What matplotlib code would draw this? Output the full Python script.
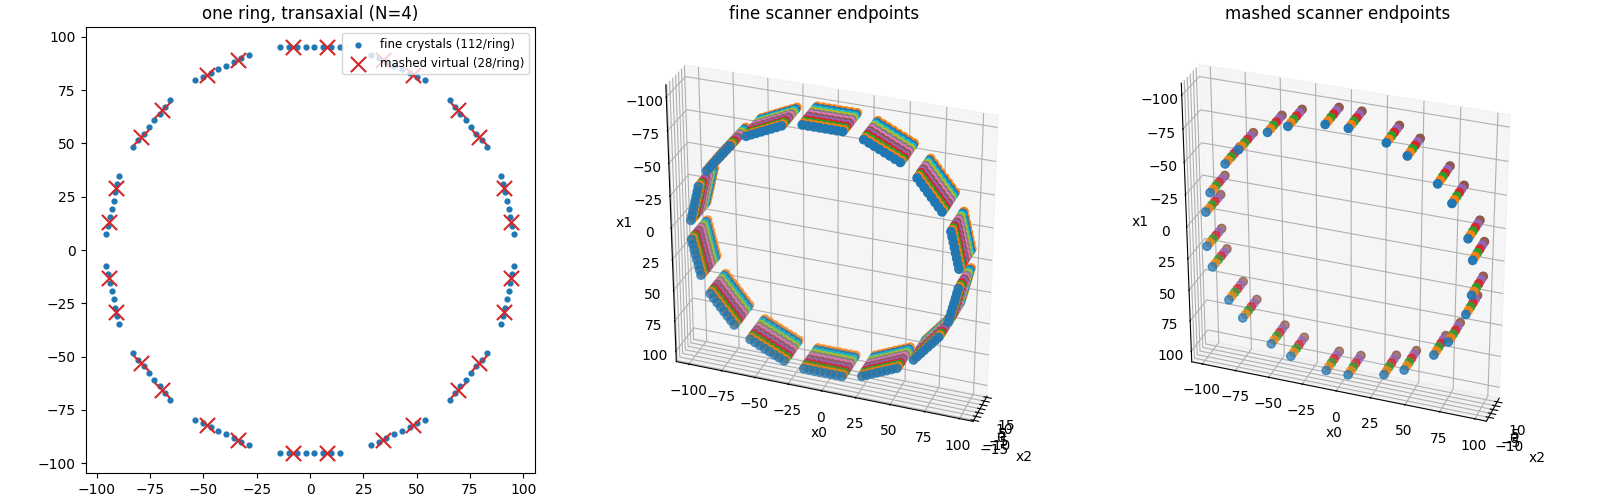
"""Scanner geometry overview: one transaxial ring plus fine and mashed endpoints in 3D."""

import matplotlib

matplotlib.use("Agg")
import matplotlib.pyplot as plt
import numpy as np
from matplotlib.colors import to_rgb

# fine crystal positions on one ring, 8 crystals per block, 14 blocks
CRYSTAL_X = [
    -14.00, -10.00, -6.00, -2.00, 2.00, 6.00, 10.00, 14.00,
    28.61, 32.21, 35.81, 39.42, 43.02, 46.63, 50.23, 53.83,
    65.54, 68.04, 70.53, 73.02, 75.52, 78.01, 80.50, 83.00,
    89.50, 90.39, 91.28, 92.17, 93.06, 93.95, 94.84, 95.73,
    95.73, 94.84, 93.95, 93.06, 92.17, 91.28, 90.39, 89.50,
    83.00, 80.50, 78.01, 75.52, 73.02, 70.53, 68.04, 65.54,
    53.83, 50.23, 46.63, 43.02, 39.42, 35.81, 32.21, 28.61,
    14.00, 10.00, 6.00, 2.00, -2.00, -6.00, -10.00, -14.00,
    -28.61, -32.21, -35.81, -39.42, -43.02, -46.63, -50.23, -53.83,
    -65.54, -68.04, -70.53, -73.02, -75.52, -78.01, -80.50, -83.00,
    -89.50, -90.39, -91.28, -92.17, -93.06, -93.95, -94.84, -95.73,
    -95.73, -94.84, -93.95, -93.06, -92.17, -91.28, -90.39, -89.50,
    -83.00, -80.50, -78.01, -75.52, -73.02, -70.53, -68.04, -65.54,
    -53.83, -50.23, -46.63, -43.02, -39.42, -35.81, -32.21, -28.61,
]
CRYSTAL_Y = [
    95.00, 95.00, 95.00, 95.00, 95.00, 95.00, 95.00, 95.00,
    91.67, 89.93, 88.19, 86.46, 84.72, 82.99, 81.25, 79.52,
    70.18, 67.05, 63.92, 60.79, 57.67, 54.54, 51.41, 48.28,
    34.79, 30.89, 26.99, 23.09, 19.19, 15.29, 11.39, 7.49,
    -7.49, -11.39, -15.29, -19.19, -23.09, -26.99, -30.89, -34.79,
    -48.28, -51.41, -54.54, -57.67, -60.79, -63.92, -67.05, -70.18,
    -79.52, -81.25, -82.99, -84.72, -86.46, -88.19, -89.93, -91.67,
    -95.00, -95.00, -95.00, -95.00, -95.00, -95.00, -95.00, -95.00,
    -91.67, -89.93, -88.19, -86.46, -84.72, -82.99, -81.25, -79.52,
    -70.18, -67.05, -63.92, -60.79, -57.67, -54.54, -51.41, -48.28,
    -34.79, -30.89, -26.99, -23.09, -19.19, -15.29, -11.39, -7.49,
    7.49, 11.39, 15.29, 19.19, 23.09, 26.99, 30.89, 34.79,
    48.28, 51.41, 54.54, 57.67, 60.79, 63.92, 67.05, 70.18,
    79.52, 81.25, 82.99, 84.72, 86.46, 88.19, 89.93, 91.67,
]
# mashed virtual crystals, 2 per block
VIRTUAL_X = [
    -8.00, 8.00, 34.01, 48.43, 69.28, 79.26, 90.84, 94.40,
    94.40, 90.84, 79.26, 69.28, 48.43, 34.01, 8.00, -8.00,
    -34.01, -48.43, -69.28, -79.26, -90.84, -94.40,
    -94.40, -90.84, -79.26, -69.28, -48.43, -34.01,
]
VIRTUAL_Y = [
    95.00, 95.00, 89.06, 82.12, 65.49, 52.97, 28.94, 13.34,
    -13.34, -28.94, -52.97, -65.49, -82.12, -89.06, -95.00, -95.00,
    -89.06, -82.12, -65.49, -52.97, -28.94, -13.34,
    13.34, 28.94, 52.97, 65.49, 82.12, 89.06,
]
# axial ring positions
FINE_RINGS = [-14.3, -11.7, -9.1, -6.5, -3.9, -1.3, 1.3, 3.9, 6.5, 9.1, 11.7, 14.3]
MASHED_RINGS = [-13.0, -7.8, -2.6, 2.6, 7.8, 13.0]

VIEW = dict(elev=-150, azim=-20, vertical_axis="y")
FAR_ALPHA = 0.7  # opacity of the crystals furthest from the camera


def _endpoints(ax, xs, ys, rings, title):
    # fade with distance along the view direction, gentler than depthshade's own range
    nearness = 0.33 * xs - 0.47 * ys
    alpha = FAR_ALPHA + (1 - FAR_ALPHA) * (nearness - nearness.min()) / np.ptp(nearness)
    # one scatter per axial ring so each ring gets the next cycle colour
    for i, ring in enumerate(rings):
        rgba = np.column_stack([np.tile(to_rgb(f"C{i % 10}"), (len(xs), 1)), alpha])
        ax.scatter(xs, ys, np.full_like(xs, ring), s=36, c=rgba, depthshade=False)
    ax.set_xlabel("x0")
    ax.set_ylabel("x1")
    ax.set_zlabel("x2")
    ax.set_title(title)
    ax.view_init(**VIEW)
    # true proportions: the scanner is far wider than it is long
    ax.set_box_aspect((np.ptp(xs), np.ptp(ys), np.ptp(rings)))


fig = plt.figure(figsize=(16, 5))

ax = fig.add_subplot(1, 3, 1)
ax.scatter(CRYSTAL_X, CRYSTAL_Y, s=12, label="fine crystals (112/ring)")
ax.scatter(VIRTUAL_X, VIRTUAL_Y, s=120, marker="x", color="tab:red", label="mashed virtual (28/ring)")
ax.set_aspect("equal")
ax.set_title("one ring, transaxial (N=4)")
ax.legend(loc="upper right", fontsize=8.5)

cx = np.array(CRYSTAL_X)
cy = np.array(CRYSTAL_Y)
_endpoints(fig.add_subplot(1, 3, 2, projection="3d"), cx, cy, FINE_RINGS, "fine scanner endpoints")
vx = np.array(VIRTUAL_X)
vy = np.array(VIRTUAL_Y)
_endpoints(fig.add_subplot(1, 3, 3, projection="3d"), vx, vy, MASHED_RINGS, "mashed scanner endpoints")

fig.tight_layout()
fig.savefig("out.png", dpi=100)
